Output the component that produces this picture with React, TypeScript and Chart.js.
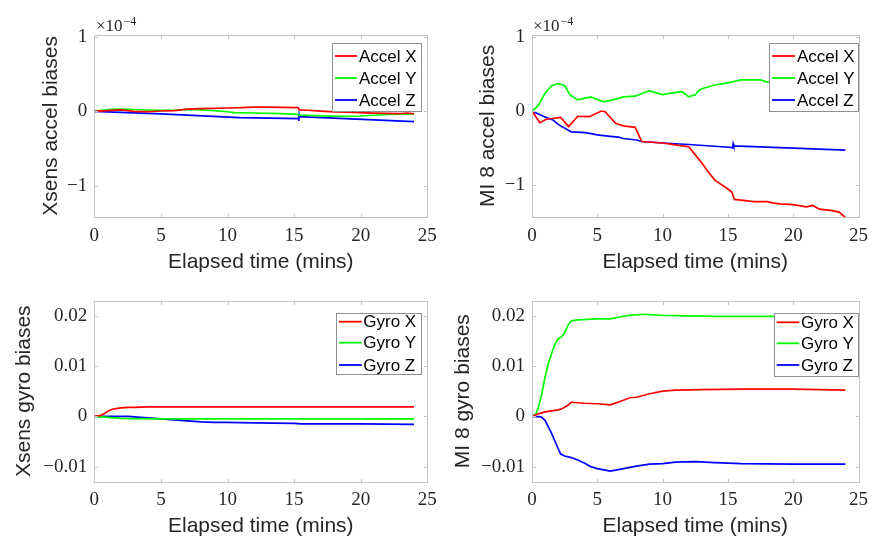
import React, { useEffect, useRef } from 'react';
import { Chart, registerables } from 'chart.js';

Chart.register(...registerables);

const W = 875;
const H = 538;

// ---------- shared ticks ----------
const xTicks = [0, 5, 10, 15, 20, 25];
const xTickLabels = ['0', '5', '10', '15', '20', '25'];
const accelTicks = [-1, 0, 1];
const accelTickLabels = ['\u22121', '0', '1'];
const gyroTicks = [-0.01, 0, 0.01, 0.02];
const gyroTickLabels = ['\u22120.01', '0', '0.01', '0.02'];

// ---------- Xsens accel (units of 1e-4) ----------
const xsAccXT = [0, 1, 2, 3, 4, 5, 6, 7, 8, 10, 11, 12, 13, 14, 15.3, 15.4, 16, 17, 18, 19, 20, 21, 22, 23, 23.5, 24];
const xsAccXV = [0, 0.01, 0.02, 0.0, -0.005, 0.005, 0.01, 0.03, 0.036, 0.045, 0.049, 0.057, 0.056, 0.052, 0.049, 0.02, 0.015, 0.003, -0.006, -0.012, -0.018, -0.023, -0.027, -0.031, -0.022, -0.033];
const xsAccYT = [0, 1, 2, 3, 4, 5, 6, 7, 8, 9, 10, 10.5, 12, 14, 15.3, 15.4, 16, 17, 18, 19, 20, 21, 22, 23, 24];
const xsAccYV = [0, 0.022, 0.03, 0.025, 0.018, 0.013, 0.015, 0.027, 0.02, 0.01, -0.005, -0.018, -0.022, -0.03, -0.04, -0.05, -0.055, -0.06, -0.065, -0.068, -0.062, -0.052, -0.042, -0.038, -0.037];
const xsAccZT = [0, 5, 10.9, 15.35, 15.35, 15.38, 15.4, 24];
const xsAccZV = [0, -0.035, -0.084, -0.098, -0.13, -0.05, -0.07, -0.138];

// ---------- MI 8 accel (units of 1e-4) ----------
const miAccXT = [0, 0.6, 1.1, 2.2, 2.8, 3.5, 4.4, 5.3, 5.6, 6.4, 7, 7.9, 8.4, 10, 11.5, 12, 12.5, 13, 13.5, 14, 15, 15.3, 15.5, 16, 17, 18, 18.5, 19, 20, 21, 21.5, 22, 23, 23.5, 24];
const miAccXV = [0, -0.157, -0.11, -0.085, -0.21, -0.07, -0.076, 0, -0.01, -0.166, -0.2, -0.22, -0.41, -0.43, -0.47, -0.48, -0.59, -0.7, -0.82, -0.93, -1.05, -1.09, -1.19, -1.2, -1.22, -1.22, -1.24, -1.25, -1.26, -1.29, -1.27, -1.32, -1.34, -1.36, -1.43];
const miAccYT = [0, 0.5, 1, 1.5, 2, 2.5, 2.9, 3.5, 4.5, 5.5, 6.4, 7, 7.9, 8.6, 9, 10, 11, 11.5, 12, 12.5, 12.8, 13, 14, 15, 16, 17.5, 18, 19, 20, 21, 22, 23, 24];
const miAccYV = [0, 0.08, 0.24, 0.34, 0.37, 0.34, 0.22, 0.15, 0.19, 0.125, 0.16, 0.19, 0.2, 0.25, 0.27, 0.22, 0.25, 0.26, 0.19, 0.22, 0.28, 0.3, 0.35, 0.38, 0.42, 0.42, 0.39, 0.4, 0.41, 0.41, 0.42, 0.42, 0.42];
const miAccZT = [0, 1, 1.6, 2, 2.85, 3, 4.1, 5, 6, 6.6, 7, 8, 8.4, 10, 12, 15.35, 15.35, 15.4, 15.45, 20, 24];
const miAccZV = [0, -0.08, -0.12, -0.18, -0.265, -0.28, -0.29, -0.32, -0.34, -0.35, -0.37, -0.39, -0.41, -0.43, -0.45, -0.49, -0.51, -0.44, -0.47, -0.5, -0.525];

// ---------- Xsens gyro ----------
const xsGyrXT = [0, 0.5, 0.8, 1, 1.25, 1.5, 2, 2.5, 3, 4, 5, 6, 8, 10, 15, 20, 24];
const xsGyrXV = [0, 0.0002, 0.0006, 0.001, 0.0013, 0.0015, 0.0017, 0.0018, 0.0018, 0.0019, 0.0019, 0.0019, 0.0019, 0.0019, 0.0019, 0.0019, 0.0019];
const xsGyrYT = [0, 0.5, 1, 1.5, 2, 3, 5, 10, 15, 20, 24];
const xsGyrYV = [0, -0.0001, -0.0002, -0.0003, -0.0004, -0.00045, -0.0005, -0.0005, -0.0005, -0.0005, -0.0005];
const xsGyrZT = [0, 1, 2, 2.6, 3, 4, 5, 6, 7, 8, 9, 10, 12, 15, 15.5, 18, 20, 24];
const xsGyrZV = [0, 0, 0, 0, -0.0001, -0.0003, -0.0005, -0.0007, -0.0009, -0.0011, -0.0012, -0.0012, -0.0013, -0.0014, -0.0015, -0.0015, -0.0015, -0.0016];

// ---------- MI 8 gyro ----------
const miGyrXT = [0, 0.5, 1, 2, 2.3, 2.75, 3, 4, 5, 6, 7, 7.5, 8, 9, 10, 11, 13, 16, 20, 24];
const miGyrXV = [0, 0.0005, 0.0009, 0.0013, 0.0015, 0.0022, 0.0028, 0.0026, 0.0025, 0.0023, 0.0032, 0.0037, 0.0038, 0.0045, 0.005, 0.0052, 0.0053, 0.0054, 0.0054, 0.0052];
const miGyrYT = [0, 0.3, 0.5, 0.75, 1, 1.25, 1.5, 1.75, 2, 2.25, 2.5, 2.75, 3, 3.5, 5, 6, 7, 7.5, 8.5, 10, 12, 14, 16, 18, 20, 22, 24];
const miGyrYV = [0, 0.0005, 0.0019, 0.0045, 0.0078, 0.0105, 0.0125, 0.0143, 0.0154, 0.0158, 0.0166, 0.0181, 0.019, 0.0192, 0.0194, 0.0194, 0.0199, 0.0201, 0.0203, 0.0201, 0.02, 0.0199, 0.0199, 0.0199, 0.0199, 0.0199, 0.0199];
const miGyrZT = [0, 0.7, 1, 1.5, 2, 2.2, 2.5, 3, 3.5, 4, 4.5, 5, 6, 7, 8, 9, 10, 11, 12.5, 14, 16, 20, 24];
const miGyrZV = [0, -0.0001, -0.0008, -0.0034, -0.0064, -0.0075, -0.0079, -0.0082, -0.0087, -0.0093, -0.01, -0.0104, -0.0109, -0.0104, -0.0099, -0.0095, -0.0094, -0.0091, -0.009, -0.0092, -0.0094, -0.0095, -0.0095];

const RED = '#ff0000';
const GREEN = '#00ff00';
const BLUE = '#0000ff';

type Series = { label: string; color: string; t: number[]; v: number[] };
type Panel = {
  series: Series[];
  yTitle: string;
  yMin: number;
  yMax: number;
  yTicks: number[];
  yTickLabels: string[];
  area: { left: number; right: number; top: number; bottom: number };
  yTitleCx: number;
  xTitleCy: number;
  legend: { x1: number; x2: number; y1: number; y2: number; lineX1: number; lineX2: number; textX: number; rows: number[] };
  exponentX: number | null;
};

const panels: Panel[] = [
  {
    series: [
      { label: 'Accel X', color: RED, t: xsAccXT, v: xsAccXV },
      { label: 'Accel Y', color: GREEN, t: xsAccYT, v: xsAccYV },
      { label: 'Accel Z', color: BLUE, t: xsAccZT, v: xsAccZV },
    ],
    yTitle: 'Xsens accel biases',
    yMin: -1.42, yMax: 1.03, yTicks: accelTicks, yTickLabels: accelTickLabels,
    area: { left: 94.3, right: 427.3, top: 34.5, bottom: 217.3 },
    yTitleCx: 51, xTitleCy: 262,
    legend: { x1: 331.7, x2: 421, y1: 42.7, y2: 111, lineX1: 335, lineX2: 357, textX: 359, rows: [56, 78, 100] },
    exponentX: 96,
  },
  {
    series: [
      { label: 'Accel X', color: RED, t: miAccXT, v: miAccXV },
      { label: 'Accel Y', color: GREEN, t: miAccYT, v: miAccYV },
      { label: 'Accel Z', color: BLUE, t: miAccZT, v: miAccZV },
    ],
    yTitle: 'MI 8 accel biases',
    yMin: -1.43, yMax: 1.03, yTicks: accelTicks, yTickLabels: accelTickLabels,
    area: { left: 532, right: 864.3, top: 34.5, bottom: 217.3 },
    yTitleCx: 488, xTitleCy: 262,
    legend: { x1: 769.3, x2: 858, y1: 42.7, y2: 111, lineX1: 772, lineX2: 795, textX: 797, rows: [56, 78, 100] },
    exponentX: 533,
  },
  {
    series: [
      { label: 'Gyro X', color: RED, t: xsGyrXT, v: xsGyrXV },
      { label: 'Gyro Y', color: GREEN, t: xsGyrYT, v: xsGyrYV },
      { label: 'Gyro Z', color: BLUE, t: xsGyrZT, v: xsGyrZV },
    ],
    yTitle: 'Xsens gyro biases',
    yMin: -0.013, yMax: 0.023, yTicks: gyroTicks, yTickLabels: gyroTickLabels,
    area: { left: 94.3, right: 427.3, top: 300.7, bottom: 481.7 },
    yTitleCx: 24.6, xTitleCy: 526,
    legend: { x1: 335.7, x2: 421, y1: 313.3, y2: 374.3, lineX1: 339, lineX2: 361.7, textX: 363.3, rows: [321.7, 342.7, 365] },
    exponentX: null,
  },
  {
    series: [
      { label: 'Gyro X', color: RED, t: miGyrXT, v: miGyrXV },
      { label: 'Gyro Y', color: GREEN, t: miGyrYT, v: miGyrYV },
      { label: 'Gyro Z', color: BLUE, t: miGyrZT, v: miGyrZV },
    ],
    yTitle: 'MI 8 gyro biases',
    yMin: -0.013, yMax: 0.023, yTicks: gyroTicks, yTickLabels: gyroTickLabels,
    area: { left: 532, right: 864, top: 300.7, bottom: 481.7 },
    yTitleCx: 463, xTitleCy: 526,
    legend: { x1: 774, x2: 858.3, y1: 312.5, y2: 375, lineX1: 776.7, lineX2: 799.3, textX: 801, rows: [322.3, 343.3, 365] },
    exponentX: null,
  },
];

const TICK_FONT = { family: '"Liberation Serif", "DejaVu Serif", serif', size: 19 };
const TITLE_FONT = { family: '"Liberation Sans", Arial, sans-serif', size: 21, lineHeight: 1.2 };
const TEXT_COLOR = '#262626';
const AXIS_COLOR = '#c4c4c4';

function makeConfig(p: Panel): any {
  const half = (TITLE_FONT.size * TITLE_FONT.lineHeight) / 2;
  const padLeft = p.yTitleCx - half;
  const yAxisW = p.area.left - padLeft;
  const scaleBottom = p.xTitleCy + half;
  const padBottom = H - scaleBottom;
  const xAxisH = scaleBottom - p.area.bottom;

  const decor = {
    id: 'decor',
    afterDraw(chart: any) {
      const { ctx, chartArea } = chart;
      const xs = chart.scales.x;
      const ys = chart.scales.y;
      const L = Math.round(chartArea.left) + 0.5;
      const R = Math.round(chartArea.right) + 0.5;
      const T = Math.round(chartArea.top) + 0.5;
      const B = Math.round(chartArea.bottom) + 0.5;
      ctx.save();
      ctx.strokeStyle = AXIS_COLOR;
      ctx.lineWidth = 1;
      ctx.strokeRect(L, T, R - L, B - T);
      const tl = 3.5;
      ctx.beginPath();
      xTicks.forEach((v) => {
        const px = Math.round(xs.getPixelForValue(v)) + 0.5;
        ctx.moveTo(px, B); ctx.lineTo(px, B - tl);
        ctx.moveTo(px, T); ctx.lineTo(px, T + tl);
      });
      p.yTicks.forEach((v) => {
        const py = Math.round(ys.getPixelForValue(v)) + 0.5;
        ctx.moveTo(L, py); ctx.lineTo(L + tl, py);
        ctx.moveTo(R, py); ctx.lineTo(R - tl, py);
      });
      ctx.stroke();

      // legend
      const lg = p.legend;
      ctx.fillStyle = '#ffffff';
      ctx.fillRect(lg.x1, lg.y1, lg.x2 - lg.x1, lg.y2 - lg.y1);
      ctx.strokeStyle = '#8f8f8f';
      ctx.strokeRect(Math.round(lg.x1) + 0.5, Math.round(lg.y1) + 0.5, Math.round(lg.x2 - lg.x1), Math.round(lg.y2 - lg.y1));
      ctx.font = '17px "Liberation Sans", Arial, sans-serif';
      ctx.textBaseline = 'middle';
      ctx.textAlign = 'left';
      chart.data.datasets.forEach((ds: any, i: number) => {
        const y = lg.rows[i];
        ctx.strokeStyle = ds.borderColor;
        ctx.lineWidth = 1.8;
        ctx.beginPath();
        ctx.moveTo(lg.lineX1, y);
        ctx.lineTo(lg.lineX2, y);
        ctx.stroke();
        ctx.fillStyle = '#000000';
        ctx.fillText(ds.label, lg.textX, y + 1);
      });

      // exponent
      if (p.exponentX !== null) {
        ctx.fillStyle = TEXT_COLOR;
        ctx.textBaseline = 'alphabetic';
        ctx.font = '17px "Liberation Serif", "DejaVu Serif", serif';
        const base = '\u00d710';
        ctx.fillText(base, p.exponentX, 31);
        const w = ctx.measureText(base).width;
        ctx.font = '12px "Liberation Serif", "DejaVu Serif", serif';
        ctx.fillText('\u22124', p.exponentX + w + 1, 25);
      }
      ctx.restore();
    },
  };

  return {
    type: 'line',
    data: {
      datasets: p.series.map((s) => ({
        label: s.label,
        data: s.t.map((t, i) => ({ x: t, y: s.v[i] })),
        borderColor: s.color,
        backgroundColor: s.color,
        borderWidth: 1.7,
        pointRadius: 0,
        tension: 0,
        fill: false,
      })),
    },
    options: {
      responsive: false,
      animation: false,
      devicePixelRatio: 1,
      events: [],
      layout: { padding: { left: padLeft, right: W - p.area.right, top: p.area.top, bottom: padBottom } },
      plugins: { legend: { display: false }, tooltip: { enabled: false } },
      scales: {
        x: {
          type: 'linear',
          position: 'bottom',
          min: 0,
          max: 25,
          grid: { display: false, drawTicks: false },
          border: { display: false },
          afterFit: (s: any) => { s.height = xAxisH; },
          afterBuildTicks: (s: any) => { s.ticks = xTicks.map((v) => ({ value: v })); },
          ticks: {
            padding: 7,
            color: TEXT_COLOR,
            font: TICK_FONT,
            maxRotation: 0,
            autoSkip: false,
            callback: (_v: any, i: number) => xTickLabels[i],
          },
          title: { display: true, text: 'Elapsed time (mins)', color: TEXT_COLOR, font: TITLE_FONT, padding: 0 },
        },
        y: {
          type: 'linear',
          position: 'left',
          min: p.yMin,
          max: p.yMax,
          grid: { display: false, drawTicks: false },
          border: { display: false },
          afterFit: (s: any) => { s.width = yAxisW; },
          afterBuildTicks: (s: any) => { s.ticks = p.yTicks.map((v) => ({ value: v })); },
          ticks: {
            padding: 7,
            color: TEXT_COLOR,
            font: TICK_FONT,
            autoSkip: false,
            callback: (_v: any, i: number) => p.yTickLabels[i],
          },
          title: { display: true, text: p.yTitle, color: TEXT_COLOR, font: TITLE_FONT, padding: 0 },
        },
      },
    },
    plugins: [decor],
  };
}

export default function App() {
  const refs = useRef<(HTMLCanvasElement | null)[]>([]);
  useEffect(() => {
    const charts = panels.map((p, i) => new Chart(refs.current[i] as HTMLCanvasElement, makeConfig(p)));
    return () => charts.forEach((c) => c.destroy());
  }, []);
  return (
    <div style={{ position: 'fixed', left: 0, top: 0, width: W, height: H, background: '#ffffff' }}>
      {panels.map((_, i) => (
        <canvas
          key={i}
          ref={(el) => { refs.current[i] = el; }}
          width={W}
          height={H}
          style={{ position: 'absolute', left: 0, top: 0, width: W, height: H }}
        />
      ))}
    </div>
  );
}
